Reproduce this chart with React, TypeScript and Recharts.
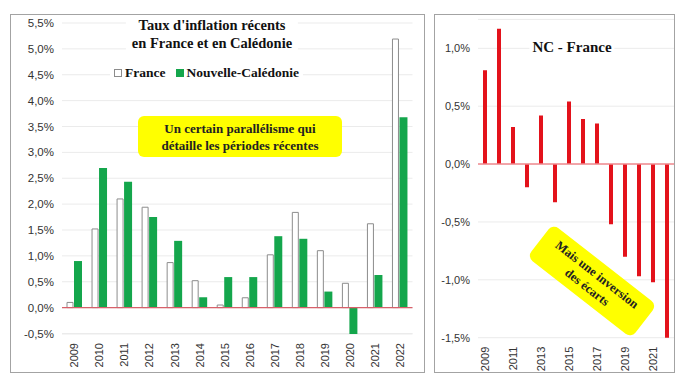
import React from 'react';
import { BarChart, Bar, XAxis, YAxis, CartesianGrid, ReferenceLine } from 'recharts';

const years = ['2009', '2010', '2011', '2012', '2013', '2014', '2015', '2016', '2017', '2018', '2019', '2020', '2021', '2022'];
const franceValues = [0.1, 1.52, 2.1, 1.94, 0.87, 0.52, 0.05, 0.19, 1.02, 1.84, 1.1, 0.47, 1.62, 5.19];
const ncValues = [0.9, 2.7, 2.43, 1.75, 1.29, 0.2, 0.59, 0.59, 1.38, 1.33, 0.31, -0.51, 0.63, 3.68];
const diffValues = [0.81, 1.17, 0.32, -0.2, 0.42, -0.33, 0.54, 0.39, 0.35, -0.52, -0.8, -0.97, -1.02, -1.51];
const leftTicks = [-0.5, 0, 0.5, 1, 1.5, 2, 2.5, 3, 3.5, 4, 4.5, 5, 5.5];
const rightTicks = [-1.5, -1, -0.5, 0, 0.5, 1];

const franceName = 'France';
const ncName = 'Nouvelle-Calédonie';
const leftTitle = ["Taux d'inflation récents", 'en France et en Calédonie'];
const rightTitle = 'NC - France';
const leftNote = ['Un certain parallélisme qui', 'détaille les périodes récentes'];
const rightNote = ['Mais une inversion', 'des écarts'];

const leftData = years.map((y, i) => ({ year: y, france: franceValues[i], nc: ncValues[i] }));
const rightData = years.map((y, i) => ({ year: y, diff: diffValues[i] }));

const GREEN = '#14a64c';
const RED = '#e3121b';
const serif = '"Liberation Serif", "Times New Roman", serif';
const sans = '"Liberation Sans", Arial, sans-serif';

const fmt = (v: number) => v.toFixed(1).replace('.', ',') + '%';

const YearTick = (props: any) => {
  const { x, y, payload, offset } = props;
  return (
    <g transform={`translate(${x},${y + (offset ?? 6)})`}>
      <text transform="rotate(-90)" textAnchor="end" dy="0.35em" x={0} fontSize={11} fill="#333" fontFamily={sans}>
        {payload.value}
      </text>
    </g>
  );
};

export default function App() {
  return (
    <div style={{ position: 'absolute', left: 0, top: 0, width: 684, height: 385, background: '#fff', overflow: 'hidden' }}>
      <div style={{ position: 'absolute', left: 10, top: 14, width: 413, height: 357, border: '1px solid #a3a3a3' }} />
      <div style={{ position: 'absolute', left: 434, top: 14, width: 239, height: 357, border: '1px solid #a3a3a3' }} />

      <div style={{ position: 'absolute', left: 0, top: 0 }}>
        <BarChart width={424} height={385} data={leftData} margin={{ top: 23, right: 11.5, left: 0, bottom: 0 }} barGap={1}>
          <CartesianGrid vertical={false} stroke="#ebebeb" />
          <XAxis dataKey="year" height={51} axisLine={false} tickLine={false} tickSize={0} interval={0}
            tick={(p: any) => <YearTick {...p} offset={7} />} />
          <YAxis width={62} domain={[-0.5, 5.5]} ticks={leftTicks} tickFormatter={fmt} axisLine={false} tickLine={false}
            interval={0} tick={{ fontSize: 11.5, fill: '#333', fontFamily: sans }} />
          <ReferenceLine y={0} stroke="#d8606a" strokeWidth={1.2} />
          <Bar dataKey="france" name={franceName} fill="#ffffff" stroke="#8c8c8c" strokeWidth={1} barSize={6} isAnimationActive={false} />
          <Bar dataKey="nc" name={ncName} fill={GREEN} barSize={8} isAnimationActive={false} />
        </BarChart>
      </div>

      <div style={{ position: 'absolute', left: 420, top: 0 }}>
        <BarChart width={264} height={385} data={rightData} margin={{ top: 19.4, right: 10, left: 0, bottom: 0 }}>
          <CartesianGrid vertical={false} stroke="#ebebeb" />
          <XAxis dataKey="year" height={47.3} axisLine={false} tickLine={false} tickSize={0} interval={1}
            tick={(p: any) => <YearTick {...p} offset={7} />} />
          <YAxis width={58} domain={[-1.5, 1.25]} ticks={rightTicks} tickFormatter={fmt} axisLine={false} tickLine={false}
            interval={0} allowDataOverflow tick={{ fontSize: 11, fill: '#333', fontFamily: sans }} />
          <ReferenceLine y={0} stroke="#f08a8f" strokeWidth={1.5} />
          <Bar dataKey="diff" fill={RED} barSize={4} isAnimationActive={false} />
        </BarChart>
      </div>

      {/* left title */}
      <div style={{ position: 'absolute', left: 212, top: 16, transform: 'translateX(-50%)', background: '#fff', padding: '0 6px',
        fontFamily: serif, fontWeight: 'bold', fontSize: 14.5, lineHeight: '18px', textAlign: 'center', whiteSpace: 'nowrap', color: '#111' }}>
        {leftTitle[0]}<br />{leftTitle[1]}
      </div>

      {/* legend */}
      <div style={{ position: 'absolute', left: 110, top: 64, background: '#fff', padding: '0 4px', display: 'flex', alignItems: 'center',
        fontFamily: serif, fontWeight: 'bold', fontSize: 13.5, lineHeight: '17px', whiteSpace: 'nowrap', color: '#111' }}>
        <span style={{ display: 'inline-block', width: 6, height: 6, border: '1px solid #8c8c8c', background: '#fff', marginRight: 3 }} />
        <span>{franceName}</span>
        <span style={{ display: 'inline-block', width: 8, height: 8, background: GREEN, marginLeft: 11, marginRight: 2 }} />
        <span>{ncName}</span>
      </div>

      {/* left note */}
      <div style={{ position: 'absolute', left: 138, top: 116, width: 204, height: 41, background: '#ffff00', borderRadius: 6,
        fontFamily: serif, fontWeight: 'bold', fontSize: 13, lineHeight: '17px', textAlign: 'center', color: '#222',
        display: 'flex', flexDirection: 'column', justifyContent: 'center', whiteSpace: 'nowrap' }}>
        <div>{leftNote[0]}</div>
        <div>{leftNote[1]}</div>
      </div>

      {/* right title */}
      <div style={{ position: 'absolute', left: 572, top: 38, transform: 'translateX(-50%)', background: '#fff', padding: '0 3px',
        fontFamily: serif, fontWeight: 'bold', fontSize: 15, lineHeight: '18px', whiteSpace: 'nowrap', color: '#111' }}>
        {rightTitle}
      </div>

      {/* right note */}
      <div style={{ position: 'absolute', left: 592 - 66, top: 281 - 21, width: 132, height: 42, background: '#ffff00', borderRadius: 7,
        transform: 'rotate(38deg)', fontFamily: serif, fontWeight: 'bold', fontSize: 12.5, lineHeight: '16px', textAlign: 'center', color: '#222',
        display: 'flex', flexDirection: 'column', justifyContent: 'center', whiteSpace: 'nowrap' }}>
        <div>{rightNote[0]}</div>
        <div>{rightNote[1]}</div>
      </div>
    </div>
  );
}
